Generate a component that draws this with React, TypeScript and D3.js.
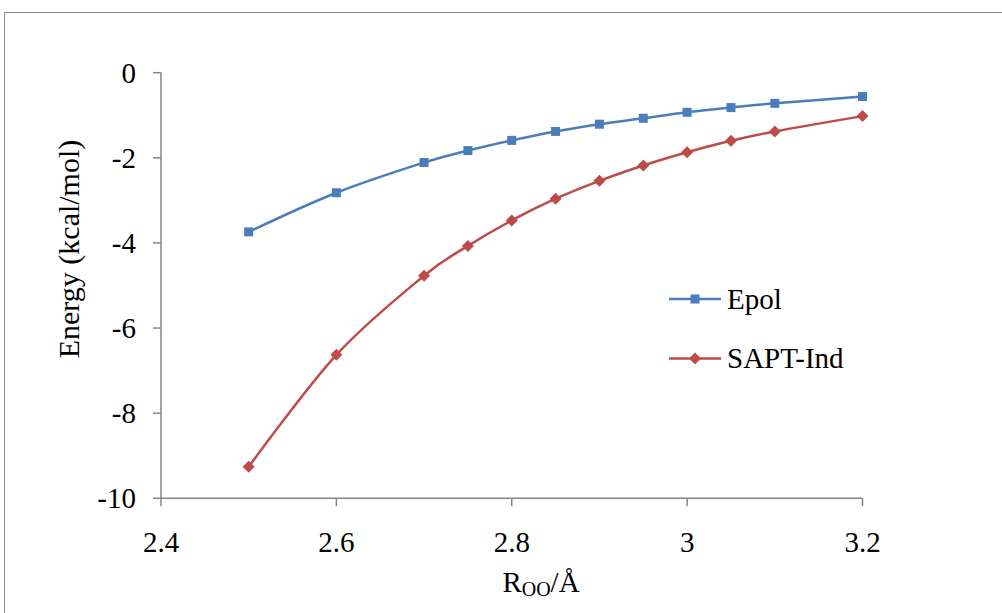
import React from "react";
import * as d3 from "d3";

const rValues = [2.5, 2.6, 2.7, 2.75, 2.8, 2.85, 2.9, 2.95, 3.0, 3.05, 3.1, 3.2];
const epol = [-3.74, -2.82, -2.11, -1.83, -1.59, -1.38, -1.21, -1.07, -0.93, -0.82, -0.72, -0.56];
const saptInd = [-9.26, -6.63, -4.77, -4.07, -3.47, -2.96, -2.54, -2.18, -1.87, -1.6, -1.38, -1.02];
const xTicks = [2.4, 2.6, 2.8, 3.0, 3.2];
const yTicks = [0, -2, -4, -6, -8, -10];

const W = 1002, H = 613;
const font = "'Liberation Serif', serif";

export default function App() {
  const x = d3.scaleLinear().domain([2.4, 3.2]).range([161, 862.5]);
  const y = d3.scaleLinear().domain([-10, 0]).range([498.3, 72.7]);
  const line = d3
    .line<[number, number]>()
    .x((d) => x(d[0]))
    .y((d) => y(d[1]))
    .curve(d3.curveCatmullRom.alpha(0));
  const blue = "#4A7EBB";
  const red = "#BE4B48";
  const epolPts = rValues.map((r, i) => [r, epol[i]] as [number, number]);
  const indPts = rValues.map((r, i) => [r, saptInd[i]] as [number, number]);
  const fmtX = (v: number) => (v === 3 ? "3" : v.toFixed(1));
  const ts: React.CSSProperties = { fontFamily: font, fontSize: 29 };
  const sq = (cx: number, cy: number, c: string, k: string) => (
    <rect key={k} x={cx - 4.5} y={cy - 4.5} width={9} height={9} fill={c} />
  );
  const dm = (cx: number, cy: number, c: string, k: string) => (
    <path key={k} d={`M${cx},${cy - 6}L${cx + 6},${cy}L${cx},${cy + 6}L${cx - 6},${cy}Z`} fill={c} />
  );
  return (
    <svg
      width={W}
      height={H}
      style={{ position: "absolute", left: 0, top: 0, background: "#fff", fontFamily: font }}
    >
      <rect x={4.5} y={12.5} width={W + 10} height={H + 10} fill="none" stroke="#898989" strokeWidth={1} />
      <line x1={x(2.4)} x2={x(2.4)} y1={y(0)} y2={y(-10)} stroke="#868686" strokeWidth={1.5} />
      <line x1={x(2.4)} x2={x(3.2)} y1={y(-10)} y2={y(-10)} stroke="#868686" strokeWidth={1.5} />
      {yTicks.map((t) => (
        <g key={"yt" + t}>
          <line x1={x(2.4) - 8} x2={x(2.4)} y1={y(t)} y2={y(t)} stroke="#868686" strokeWidth={1.5} />
          <text x={136} y={y(t) + 10} textAnchor="end" style={ts} fill="#000">
            {t}
          </text>
        </g>
      ))}
      {xTicks.map((t) => (
        <g key={"xt" + t}>
          <line x1={x(t)} x2={x(t)} y1={y(-10)} y2={y(-10) + 8} stroke="#868686" strokeWidth={1.5} />
          <text x={x(t)} y={552} textAnchor="middle" style={ts} fill="#000">
            {fmtX(t)}
          </text>
        </g>
      ))}
      <text x={541} y={592} textAnchor="middle" style={ts} fill="#000">
        R<tspan style={{ fontSize: 20 }} dy={4}>OO</tspan>
        <tspan dy={-4}>/Å</tspan>
      </text>
      <text
        transform={`translate(79,${249}) rotate(-90)`}
        textAnchor="middle"
        style={{ ...ts, fontSize: 30 }}
        fill="#000"
      >
        Energy (kcal/mol)
      </text>
      <path d={line(epolPts) || ""} fill="none" stroke={blue} strokeWidth={2.5} />
      <path d={line(indPts) || ""} fill="none" stroke={red} strokeWidth={2.5} />
      {epolPts.map((p, i) => sq(x(p[0]), y(p[1]), blue, "e" + i))}
      {indPts.map((p, i) => dm(x(p[0]), y(p[1]), red, "s" + i))}
      <line x1={669} x2={721} y1={299} y2={299} stroke={blue} strokeWidth={2.5} />
      {sq(695, 299, blue, "le")}
      <text x={727} y={309} style={ts} fill="#000">Epol</text>
      <line x1={669} x2={721} y1={358.5} y2={358.5} stroke={red} strokeWidth={2.5} />
      {dm(695, 358.5, red, "ls")}
      <text x={727} y={368} style={ts} fill="#000">SAPT-Ind</text>
    </svg>
  );
}
